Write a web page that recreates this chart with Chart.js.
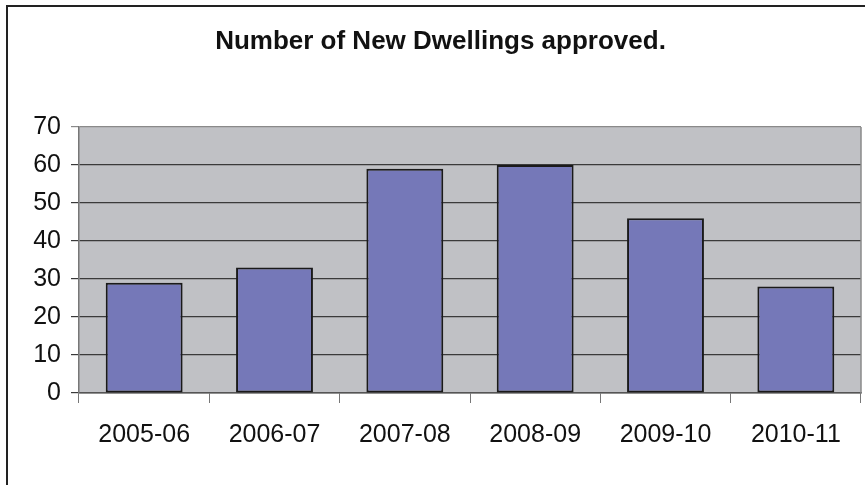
<!DOCTYPE html>
<html>
<head>
<meta charset="utf-8">
<script src="https://cdn.jsdelivr.net/npm/chart.js@4"></script>
<style>
  html, body { margin: 0; padding: 0; background: #fff; }
  #wrap { position: relative; width: 865px; height: 485px; }
</style>
</head>
<body>
<div id="wrap"><canvas id="bar" width="865" height="485"></canvas></div>
<script>
var categories = ['2005-06', '2006-07', '2007-08', '2008-09', '2009-10', '2010-11'];
var dwellings = [29, 33, 59, 60, 46, 28];
var yTicks = [0, 10, 20, 30, 40, 50, 60, 70];

var fontFamily = '"Liberation Sans", Arial, Helvetica, sans-serif';

// grey plot background + frame lines
var plotBg = {
    id: 'plotBg',
    beforeDraw: function(chart) {
        var ctx = chart.ctx, a = chart.chartArea;
        ctx.save();
        ctx.fillStyle = '#c0c1c5';
        ctx.fillRect(a.left, a.top, a.right - a.left, a.bottom - a.top);
        ctx.restore();
    },
    afterDraw: function(chart) {
        var ctx = chart.ctx, a = chart.chartArea;
        ctx.save();
        ctx.strokeStyle = '#8a8a8a';
        ctx.lineWidth = 1.5;
        ctx.beginPath();
        ctx.moveTo(a.right, a.top);
        ctx.lineTo(a.right, a.bottom);
        ctx.stroke();
        // outer frame (left and top)
        ctx.strokeStyle = '#222';
        ctx.lineWidth = 2;
        ctx.beginPath();
        ctx.moveTo(7, chart.height);
        ctx.lineTo(7, 6);
        ctx.lineTo(chart.width, 6);
        ctx.stroke();
        ctx.restore();
    }
};

var ctx = document.getElementById('bar').getContext('2d');
var myChart = new Chart(ctx, {
    type: 'bar',
    data: {
        labels: categories,
        datasets: [{
            label: 'New Dwellings',
            data: dwellings,
            backgroundColor: '#7578b8',
            borderColor: '#1a1a1a',
            borderWidth: 2,
            borderSkipped: false,
            categoryPercentage: 1,
            barPercentage: 0.59
        }]
    },
    options: {
        responsive: false,
        animation: false,
        layout: { padding: { left: 20, right: 4, top: 0, bottom: 0 } },
        plugins: {
            legend: { display: false },
            tooltip: { enabled: false },
            title: {
                display: true,
                text: 'Number of New Dwellings approved.',
                color: '#111',
                font: { family: fontFamily, size: 26, weight: 'bold', lineHeight: 1.2 },
                padding: { top: 26, bottom: 69.8 }
            }
        },
        scales: {
            x: {
                grid: {
                    offset: true,
                    drawOnChartArea: false,
                    color: '#777',
                    tickLength: 10
                },
                border: { color: '#555', width: 1.5 },
                ticks: {
                    color: '#111',
                    padding: 17,
                    autoSkip: false,
                    maxRotation: 0,
                    font: { family: fontFamily, size: 25 }
                },
                afterFit: function(scale) { scale.height = 92; }
            },
            y: {
                min: 0,
                max: 70,
                afterBuildTicks: function(scale) {
                    scale.ticks = yTicks.map(function(v) { return { value: v }; });
                },
                grid: {
                    color: function(c) { return c.tick && c.tick.value === 70 ? '#8a8a8a' : '#3a3a3a'; },
                    lineWidth: 1.2,
                    tickLength: 8
                },
                border: { color: '#777', width: 1.5 },
                ticks: {
                    color: '#111',
                    padding: 10,
                    autoSkip: false,
                    font: { family: fontFamily, size: 25 }
                },
                afterFit: function(scale) { scale.width = 59; }
            }
        }
    },
    plugins: [plotBg]
});
</script>
</body>
</html>
